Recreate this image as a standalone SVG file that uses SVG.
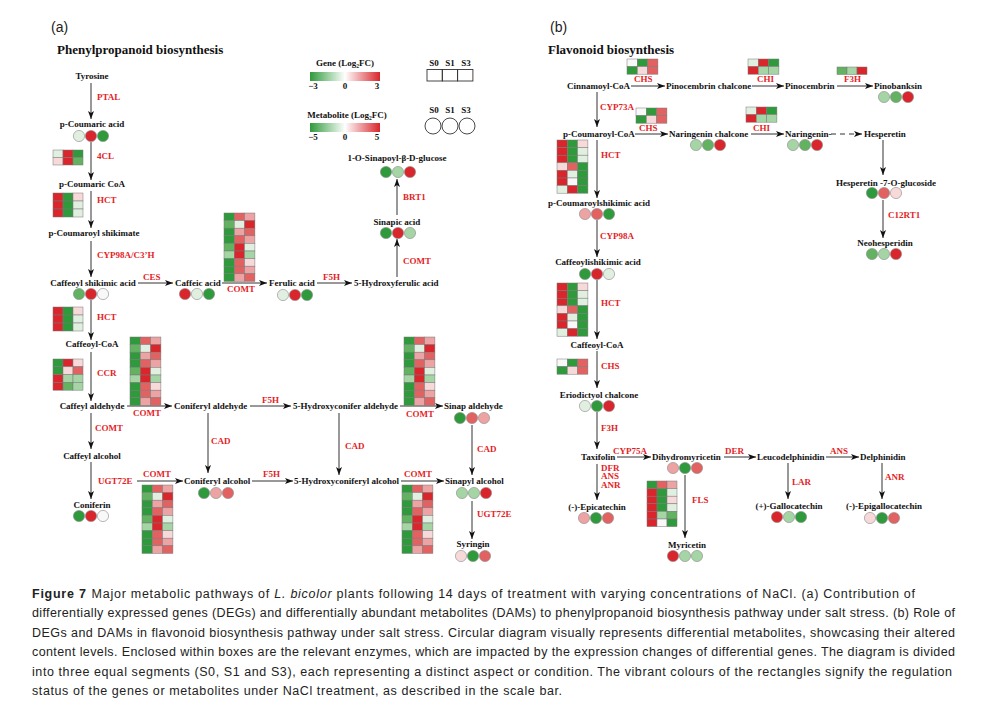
<svg xmlns="http://www.w3.org/2000/svg" width="991" height="712" viewBox="0 0 991 712">
<style>
.n{font-family:"Liberation Serif","Times New Roman",serif;font-weight:bold;font-size:9px;fill:#111}
.e{font-family:"Liberation Serif","Times New Roman",serif;font-weight:bold;font-size:9px;fill:#e41e26}
.t{font-family:"Liberation Serif","Times New Roman",serif;font-weight:bold;font-size:13px;fill:#111}
.p{font-family:"Liberation Sans",Arial,sans-serif;font-size:14px;fill:#222}
.c{font-family:"Liberation Sans",Arial,sans-serif;font-size:12.5px;fill:#222}
.k{stroke:#333;stroke-width:1;fill:none;marker-end:url(#ah)}
.m circle{stroke:#8a8a8a;stroke-width:.6}
.R{fill:#d8262c}.R2{fill:#e26262}.R3{fill:#eda3a3}.R4{fill:#f8d9d9}.W{fill:#f8f8f8}.G4{fill:#e0efe0}.G3{fill:#a5d4a5}.G2{fill:#62b262}.G{fill:#2f9a3b}
</style>
<defs>
<marker id="ah" viewBox="0 0 8 6" refX="8" refY="3" markerWidth="8" markerHeight="6" markerUnits="userSpaceOnUse" orient="auto"><path d="M0,0 L8,3 L0,6 L2,3 z" fill="#111"/></marker>
<linearGradient id="gr" x1="0" y1="0" x2="1" y2="0"><stop offset="0" stop-color="#2f9a3b"/><stop offset="0.5" stop-color="#ffffff"/><stop offset="1" stop-color="#d8262c"/></linearGradient>
<g id="comt" stroke="#777" stroke-width=".5">
<rect x="0" y="0" width="10.3" height="7.6" class="G"/><rect x="10.3" y="0" width="10.3" height="7.6" class="R2"/><rect x="20.6" y="0" width="10.3" height="7.6" class="R3"/>
<rect x="0" y="7.6" width="10.3" height="7.6" class="G2"/><rect x="10.3" y="7.6" width="10.3" height="7.6" class="G4"/><rect x="20.6" y="7.6" width="10.3" height="7.6" class="R"/>
<rect x="0" y="15.2" width="10.3" height="7.6" class="G"/><rect x="10.3" y="15.2" width="10.3" height="7.6" class="R3"/><rect x="20.6" y="15.2" width="10.3" height="7.6" class="R2"/>
<rect x="0" y="22.8" width="10.3" height="7.6" class="G"/><rect x="10.3" y="22.8" width="10.3" height="7.6" class="R2"/><rect x="20.6" y="22.8" width="10.3" height="7.6" class="R3"/>
<rect x="0" y="30.4" width="10.3" height="7.6" class="G2"/><rect x="10.3" y="30.4" width="10.3" height="7.6" class="R"/><rect x="20.6" y="30.4" width="10.3" height="7.6" class="G4"/>
<rect x="0" y="38" width="10.3" height="7.6" class="G3"/><rect x="10.3" y="38" width="10.3" height="7.6" class="R"/><rect x="20.6" y="38" width="10.3" height="7.6" class="G3"/>
<rect x="0" y="45.6" width="10.3" height="7.6" class="G"/><rect x="10.3" y="45.6" width="10.3" height="7.6" class="R2"/><rect x="20.6" y="45.6" width="10.3" height="7.6" class="R4"/>
<rect x="0" y="53.2" width="10.3" height="7.6" class="G"/><rect x="10.3" y="53.2" width="10.3" height="7.6" class="R2"/><rect x="20.6" y="53.2" width="10.3" height="7.6" class="R3"/>
<rect x="0" y="60.8" width="10.3" height="7.6" class="G"/><rect x="10.3" y="60.8" width="10.3" height="7.6" class="R3"/><rect x="20.6" y="60.8" width="10.3" height="7.6" class="R2"/>
</g>
<g id="hct3" stroke="#777" stroke-width=".5">
<rect x="0" y="0" width="10" height="8" class="R"/><rect x="10" y="0" width="10" height="8" class="G"/><rect x="20" y="0" width="10" height="8" class="R4"/>
<rect x="0" y="8" width="10" height="8" class="R"/><rect x="10" y="8" width="10" height="8" class="G"/><rect x="20" y="8" width="10" height="8" class="G4"/>
<rect x="0" y="16" width="10" height="8" class="R"/><rect x="10" y="16" width="10" height="8" class="G"/><rect x="20" y="16" width="10" height="8" class="G4"/>
</g>
<g id="cl4" stroke="#777" stroke-width=".5">
<rect x="0" y="0" width="10" height="7.5" class="G4"/><rect x="10" y="0" width="10" height="7.5" class="R"/><rect x="20" y="0" width="10" height="7.5" class="G"/>
<rect x="0" y="7.5" width="10" height="7.5" class="R4"/><rect x="10" y="7.5" width="10" height="7.5" class="R"/><rect x="20" y="7.5" width="10" height="7.5" class="G2"/>
</g>
<g id="ccr" stroke="#777" stroke-width=".5">
<rect x="0" y="0" width="10" height="7.8" class="G"/><rect x="10" y="0" width="10" height="7.8" class="R"/><rect x="20" y="0" width="10" height="7.8" class="R4"/>
<rect x="0" y="7.8" width="10" height="7.8" class="G"/><rect x="10" y="7.8" width="10" height="7.8" class="R4"/><rect x="20" y="7.8" width="10" height="7.8" class="R2"/>
<rect x="0" y="15.6" width="10" height="7.8" class="R"/><rect x="10" y="15.6" width="10" height="7.8" class="G3"/><rect x="20" y="15.6" width="10" height="7.8" class="G3"/>
<rect x="0" y="23.4" width="10" height="7.8" class="R"/><rect x="10" y="23.4" width="10" height="7.8" class="G2"/><rect x="20" y="23.4" width="10" height="7.8" class="G3"/>
</g>
<g id="chs" stroke="#777" stroke-width=".5">
<rect x="0" y="0" width="10.3" height="7.6" class="W"/><rect x="10.3" y="0" width="10.3" height="7.6" class="G"/><rect x="20.6" y="0" width="10.3" height="7.6" class="R2"/>
<rect x="0" y="7.6" width="10.3" height="7.6" class="G"/><rect x="10.3" y="7.6" width="10.3" height="7.6" class="R4"/><rect x="20.6" y="7.6" width="10.3" height="7.6" class="R2"/>
</g>
<g id="chi" stroke="#777" stroke-width=".5">
<rect x="0" y="0" width="10.3" height="7.6" class="G4"/><rect x="10.3" y="0" width="10.3" height="7.6" class="R"/><rect x="20.6" y="0" width="10.3" height="7.6" class="G"/>
<rect x="0" y="7.6" width="10.3" height="7.6" class="R"/><rect x="10.3" y="7.6" width="10.3" height="7.6" class="G3"/><rect x="20.6" y="7.6" width="10.3" height="7.6" class="G3"/>
</g>
<g id="f3h" stroke="#777" stroke-width=".5">
<rect x="0" y="0" width="10" height="7.5" class="G2"/><rect x="10" y="0" width="10" height="7.5" class="G3"/><rect x="20" y="0" width="10" height="7.5" class="R"/>
</g>
<g id="hct7" stroke="#777" stroke-width=".5">
<rect x="0" y="0" width="10.3" height="7.6" class="R"/><rect x="10.3" y="0" width="10.3" height="7.6" class="G"/><rect x="20.6" y="0" width="10.3" height="7.6" class="R4"/>
<rect x="0" y="7.6" width="10.3" height="7.6" class="R"/><rect x="10.3" y="7.6" width="10.3" height="7.6" class="G"/><rect x="20.6" y="7.6" width="10.3" height="7.6" class="G4"/>
<rect x="0" y="15.2" width="10.3" height="7.6" class="R"/><rect x="10.3" y="15.2" width="10.3" height="7.6" class="G"/><rect x="20.6" y="15.2" width="10.3" height="7.6" class="G4"/>
<rect x="0" y="22.8" width="10.3" height="7.6" class="R4"/><rect x="10.3" y="22.8" width="10.3" height="7.6" class="R2"/><rect x="20.6" y="22.8" width="10.3" height="7.6" class="G"/>
<rect x="0" y="30.4" width="10.3" height="7.6" class="R"/><rect x="10.3" y="30.4" width="10.3" height="7.6" class="G4"/><rect x="20.6" y="30.4" width="10.3" height="7.6" class="G"/>
<rect x="0" y="38" width="10.3" height="7.6" class="R"/><rect x="10.3" y="38" width="10.3" height="7.6" class="W"/><rect x="20.6" y="38" width="10.3" height="7.6" class="G"/>
<rect x="0" y="45.6" width="10.3" height="7.6" class="G4"/><rect x="10.3" y="45.6" width="10.3" height="7.6" class="R"/><rect x="20.6" y="45.6" width="10.3" height="7.6" class="G"/>
</g>
<g id="fls" stroke="#777" stroke-width=".5">
<rect x="0" y="0" width="10" height="7.6" class="G"/><rect x="10" y="0" width="10" height="7.6" class="R2"/><rect x="20" y="0" width="10" height="7.6" class="R3"/>
<rect x="0" y="7.6" width="10" height="7.6" class="R"/><rect x="10" y="7.6" width="10" height="7.6" class="G"/><rect x="20" y="7.6" width="10" height="7.6" class="G4"/>
<rect x="0" y="15.2" width="10" height="7.6" class="R"/><rect x="10" y="15.2" width="10" height="7.6" class="G"/><rect x="20" y="15.2" width="10" height="7.6" class="R4"/>
<rect x="0" y="22.8" width="10" height="7.6" class="R"/><rect x="10" y="22.8" width="10" height="7.6" class="G"/><rect x="20" y="22.8" width="10" height="7.6" class="G4"/>
<rect x="0" y="30.4" width="10" height="7.6" class="R"/><rect x="10" y="30.4" width="10" height="7.6" class="G3"/><rect x="20" y="30.4" width="10" height="7.6" class="G2"/>
<rect x="0" y="38" width="10" height="7.6" class="R"/><rect x="10" y="38" width="10" height="7.6" class="W"/><rect x="20" y="38" width="10" height="7.6" class="G"/>
</g>
</defs>
<rect width="991" height="712" fill="#ffffff"/>

<!-- Panel titles -->
<text class="p" x="51" y="32">(a)</text>
<text class="t" x="57" y="54">Phenylpropanoid biosynthesis</text>
<text class="p" x="550" y="32">(b)</text>
<text class="t" x="548" y="54">Flavonoid biosynthesis</text>

<!-- Legend -->
<g id="legend">
<text class="n" x="345" y="66" text-anchor="middle" font-size="8">Gene (Log<tspan font-size="5.5" dy="1.5">2</tspan><tspan dy="-1.5">FC)</tspan></text>
<rect x="310" y="72" width="70" height="9" fill="url(#gr)"/>
<text class="n" x="313" y="89" text-anchor="middle" font-size="7">−3</text>
<text class="n" x="345" y="89" text-anchor="middle" font-size="7">0</text>
<text class="n" x="377" y="89" text-anchor="middle" font-size="7">3</text>
<text class="n" x="347" y="118" text-anchor="middle" font-size="8">Metabolite (Log<tspan font-size="5.5" dy="1.5">2</tspan><tspan dy="-1.5">FC)</tspan></text>
<rect x="310" y="123" width="70" height="9" fill="url(#gr)"/>
<text class="n" x="313" y="140" text-anchor="middle" font-size="7">−5</text>
<text class="n" x="345" y="140" text-anchor="middle" font-size="7">0</text>
<text class="n" x="377" y="140" text-anchor="middle" font-size="7">5</text>
<text class="n" x="434" y="66" text-anchor="middle" font-size="8">S0</text>
<text class="n" x="450" y="66" text-anchor="middle" font-size="8">S1</text>
<text class="n" x="466" y="66" text-anchor="middle" font-size="8">S3</text>
<g fill="none" stroke="#333" stroke-width=".9">
<rect x="427" y="69.5" width="15.3" height="11.5"/><rect x="442.3" y="69.5" width="15.3" height="11.5"/><rect x="457.6" y="69.5" width="15.3" height="11.5"/>
<circle cx="433" cy="126" r="8"/><circle cx="450" cy="126" r="8"/><circle cx="467" cy="126" r="8"/>
</g>
<text class="n" x="434" y="113" text-anchor="middle" font-size="8">S0</text>
<text class="n" x="450" y="113" text-anchor="middle" font-size="8">S1</text>
<text class="n" x="466" y="113" text-anchor="middle" font-size="8">S3</text>
</g>

<!-- Connectors -->
<g id="connectors">
<path class="k" d="M91,83 V119"/>
<path class="k" d="M91,142 V180"/>
<path class="k" d="M91,191 V228"/>
<path class="k" d="M91,241 V277"/>
<path class="k" d="M138,283 H173"/>
<path class="k" d="M222,283 H267"/>
<path class="k" d="M317,283 H352"/>
<path class="k" d="M397,277 V239"/>
<path class="k" d="M397,215 V179"/>
<path class="k" d="M91,300 V340"/>
<path class="k" d="M91,352 V401"/>
<path class="k" d="M127,406 H172"/>
<path class="k" d="M250,406 H291"/>
<path class="k" d="M400,406 H443"/>
<path class="k" d="M91,413 V449"/>
<path class="k" d="M208,413 V473"/>
<path class="k" d="M339,413 V475"/>
<path class="k" d="M472,425 V475"/>
<path class="k" d="M91,462 V499"/>
<path class="k" d="M137,481 H183"/>
<path class="k" d="M252,481 H293"/>
<path class="k" d="M401,481 H444"/>
<path class="k" d="M472,501 V539"/>

<path class="k" d="M631,86 H665"/>
<path class="k" d="M752,86 H784"/>
<path class="k" d="M837,86 H873"/>
<path class="k" d="M597,92 V127"/>
<path class="k" d="M635,134 H668"/>
<path class="k" d="M751,134 H784"/>
<path class="k" d="M831,134 H862" stroke-dasharray="5,4"/>
<path class="k" d="M883,140 V175"/>
<path class="k" d="M883,200 V238"/>
<path class="k" d="M597,140 V198"/>
<path class="k" d="M597,220 V257"/>
<path class="k" d="M597,280 V339"/>
<path class="k" d="M597,351 V388"/>
<path class="k" d="M597,412 V449"/>
<path class="k" d="M617,457 H651"/>
<path class="k" d="M724,457 H756"/>
<path class="k" d="M826,457 H859"/>
<path class="k" d="M597,464 V500"/>
<path class="k" d="M685,475 V538"/>
<path class="k" d="M788,463 V499"/>
<path class="k" d="M882,463 V499"/>
</g>

<!-- Panel (a) nodes -->
<g id="tyrosine"><text class="n" x="92" y="79" text-anchor="middle">Tyrosine</text></g>
<g id="p-coumaric-acid" class="m"><text class="n" x="92" y="127" text-anchor="middle">p-Coumaric acid</text>
<circle cx="79" cy="136" r="5.6" class="G4"/><circle cx="91" cy="136" r="5.6" class="R"/><circle cx="103" cy="136" r="5.6" class="G"/></g>
<g id="p-coumaric-coa"><text class="n" x="92" y="187" text-anchor="middle">p-Coumaric CoA</text></g>
<g id="p-coumaroyl-shikimate"><text class="n" x="94" y="236" text-anchor="middle">p-Coumaroyl shikimate</text></g>
<g id="caffeoyl-shikimic-acid" class="m"><text class="n" x="93" y="286" text-anchor="middle">Caffeoyl shikimic acid</text>
<circle cx="79" cy="294" r="5.6" class="G2"/><circle cx="91" cy="294" r="5.6" class="R"/><circle cx="103" cy="294" r="5.6" class="W"/></g>
<g id="caffeic-acid" class="m"><text class="n" x="175" y="286">Caffeic acid</text>
<circle cx="185" cy="294" r="5.6" class="R"/><circle cx="197" cy="294" r="5.6" class="G4"/><circle cx="209" cy="294" r="5.6" class="G"/></g>
<g id="ferulic-acid" class="m"><text class="n" x="269" y="286">Ferulic acid</text>
<circle cx="283" cy="295" r="5.6" class="G4"/><circle cx="295" cy="295" r="5.6" class="R"/><circle cx="307" cy="295" r="5.6" class="G"/></g>
<g id="hydroxyferulic-acid"><text class="n" x="354" y="286">5-Hydroxyferulic acid</text></g>
<g id="sinapic-acid" class="m"><text class="n" x="397" y="225" text-anchor="middle">Sinapic acid</text>
<circle cx="386" cy="233" r="5.6" class="G"/><circle cx="398" cy="233" r="5.6" class="R"/><circle cx="410" cy="233" r="5.6" class="G3"/></g>
<g id="sinapoyl-glucose" class="m"><text class="n" x="397" y="161" text-anchor="middle">1-O-Sinapoyl-β-D-glucose</text>
<circle cx="386" cy="172" r="5.6" class="G"/><circle cx="398" cy="172" r="5.6" class="G3"/><circle cx="410" cy="172" r="5.6" class="R"/></g>
<g id="caffeoyl-coa"><text class="n" x="92" y="347" text-anchor="middle">Caffeoyl-CoA</text></g>
<g id="caffeyl-aldehyde"><text class="n" x="92" y="409" text-anchor="middle">Caffeyl aldehyde</text></g>
<g id="coniferyl-aldehyde"><text class="n" x="174" y="409">Coniferyl aldehyde</text></g>
<g id="hydroxyconifer-aldehyde"><text class="n" x="293" y="409">5-Hydroxyconifer aldehyde</text></g>
<g id="sinap-aldehyde" class="m"><text class="n" x="444" y="409">Sinap aldehyde</text>
<circle cx="460" cy="418" r="5.6" class="G"/><circle cx="472" cy="418" r="5.6" class="R2"/><circle cx="484" cy="418" r="5.6" class="R3"/></g>
<g id="caffeyl-alcohol"><text class="n" x="92" y="459" text-anchor="middle">Caffeyl alcohol</text></g>
<g id="coniferin" class="m"><text class="n" x="92" y="508" text-anchor="middle">Coniferin</text>
<circle cx="79" cy="516" r="5.6" class="G"/><circle cx="91" cy="516" r="5.6" class="R"/><circle cx="103" cy="516" r="5.6" class="W"/></g>
<g id="coniferyl-alcohol" class="m"><text class="n" x="184" y="484">Coniferyl alcohol</text>
<circle cx="204" cy="493" r="5.6" class="G"/><circle cx="216" cy="493" r="5.6" class="R3"/><circle cx="228" cy="493" r="5.6" class="R2"/></g>
<g id="hydroxyconiferyl-alcohol"><text class="n" x="294" y="484">5-Hydroxyconiferyl alcohol</text></g>
<g id="sinapyl-alcohol" class="m"><text class="n" x="445" y="484">Sinapyl alcohol</text>
<circle cx="462" cy="493" r="5.6" class="G3"/><circle cx="474" cy="493" r="5.6" class="G3"/><circle cx="486" cy="493" r="5.6" class="R"/></g>
<g id="syringin" class="m"><text class="n" x="473" y="547" text-anchor="middle">Syringin</text>
<circle cx="461" cy="556" r="5.6" class="R4"/><circle cx="473" cy="556" r="5.6" class="G"/><circle cx="485" cy="556" r="5.6" class="R2"/></g>

<!-- Panel (a) enzymes -->
<g id="enzymes-a">
<text class="e" x="97" y="100">PTAL</text>
<use href="#cl4" x="53" y="150"/><text class="e" x="97" y="159">4CL</text>
<use href="#hct3" x="53" y="193"/><text class="e" x="97" y="203">HCT</text>
<text class="e" x="97" y="258">CYP98A/C3’H</text>
<text class="e" x="143" y="280">CES</text>
<use href="#comt" x="224" y="213"/><text class="e" x="227" y="292">COMT</text>
<text class="e" x="323" y="280">F5H</text>
<text class="e" x="403" y="264">COMT</text>
<text class="e" x="403" y="200">BRT1</text>
<use href="#hct3" x="53" y="307"/><text class="e" x="97" y="320">HCT</text>
<use href="#ccr" x="53" y="359"/><text class="e" x="97" y="376">CCR</text>
<use href="#comt" x="130" y="337"/><text class="e" x="133" y="416">COMT</text>
<text class="e" x="262" y="403">F5H</text>
<use href="#comt" x="404" y="337"/><text class="e" x="406" y="417">COMT</text>
<text class="e" x="95" y="431">COMT</text>
<text class="e" x="211" y="444">CAD</text>
<text class="e" x="345" y="449">CAD</text>
<text class="e" x="477" y="452">CAD</text>
<text class="e" x="98" y="484">UGT72E</text>
<text class="e" x="143" y="477">COMT</text>
<use href="#comt" x="142" y="485"/>
<text class="e" x="263" y="477">F5H</text>
<text class="e" x="404" y="477">COMT</text>
<use href="#comt" x="402" y="485"/>
<text class="e" x="477" y="517">UGT72E</text>
</g>

<!-- Panel (b) nodes -->
<g id="cinnamoyl-coa"><text class="n" x="567" y="89">Cinnamoyl-CoA</text></g>
<g id="pinocembrin-chalcone"><text class="n" x="666" y="89">Pinocembrin chalcone</text></g>
<g id="pinocembrin"><text class="n" x="785" y="89">Pinocembrin</text></g>
<g id="pinobanksin" class="m"><text class="n" x="874" y="89">Pinobanksin</text>
<circle cx="884" cy="97" r="5.6" class="G3"/><circle cx="896" cy="97" r="5.6" class="G2"/><circle cx="908" cy="97" r="5.6" class="R"/></g>
<g id="p-coumaroyl-coa"><text class="n" x="563" y="137">p-Coumaroyl-CoA</text></g>
<g id="naringenin-chalcone" class="m"><text class="n" x="669" y="137">Naringenin chalcone</text>
<circle cx="696" cy="145" r="5.6" class="G3"/><circle cx="708" cy="145" r="5.6" class="G2"/><circle cx="720" cy="145" r="5.6" class="R"/></g>
<g id="naringenin" class="m"><text class="n" x="785" y="137">Naringenin-</text>
<circle cx="793" cy="145" r="5.6" class="G3"/><circle cx="805" cy="145" r="5.6" class="G2"/><circle cx="817" cy="145" r="5.6" class="R"/></g>
<g id="hesperetin"><text class="n" x="864" y="137">Hesperetin</text></g>
<g id="hesperetin-glucoside" class="m"><text class="n" x="886" y="186" text-anchor="middle">Hesperetin -7-O-glucoside</text>
<circle cx="872" cy="193" r="5.6" class="G"/><circle cx="884" cy="193" r="5.6" class="R2"/><circle cx="896" cy="193" r="5.6" class="R4"/></g>
<g id="neohesperidin" class="m"><text class="n" x="885" y="246" text-anchor="middle">Neohesperidin</text>
<circle cx="872" cy="254" r="5.6" class="G2"/><circle cx="884" cy="254" r="5.6" class="G3"/><circle cx="896" cy="254" r="5.6" class="R"/></g>
<g id="p-coumaroylshikimic-acid" class="m"><text class="n" x="599" y="206" text-anchor="middle">p-Coumaroylshikimic acid</text>
<circle cx="585" cy="214" r="5.6" class="R3"/><circle cx="597" cy="214" r="5.6" class="R2"/><circle cx="609" cy="214" r="5.6" class="G"/></g>
<g id="caffeoylishikimic-acid" class="m"><text class="n" x="598" y="265" text-anchor="middle">Caffeoylishikimic acid</text>
<circle cx="585" cy="274" r="5.6" class="G"/><circle cx="597" cy="274" r="5.6" class="R"/><circle cx="609" cy="274" r="5.6" class="G4"/></g>
<g id="caffeoyl-coa-b"><text class="n" x="597" y="348" text-anchor="middle">Caffeoyl-CoA</text></g>
<g id="eriodictyol-chalcone" class="m"><text class="n" x="599" y="398" text-anchor="middle">Eriodictyol chalcone</text>
<circle cx="585" cy="406" r="5.6" class="G4"/><circle cx="597" cy="406" r="5.6" class="G"/><circle cx="609" cy="406" r="5.6" class="R"/></g>
<g id="taxifolin"><text class="n" x="581" y="460">Taxifolin</text></g>
<g id="dihydromyricetin" class="m"><text class="n" x="652" y="460">Dihydromyricetin</text>
<circle cx="673" cy="468" r="5.6" class="R3"/><circle cx="685" cy="468" r="5.6" class="G"/><circle cx="697" cy="468" r="5.6" class="R2"/></g>
<g id="leucodelphinidin"><text class="n" x="757" y="460">Leucodelphinidin</text></g>
<g id="delphinidin"><text class="n" x="860" y="460">Delphinidin</text></g>
<g id="epicatechin" class="m"><text class="n" x="597" y="510" text-anchor="middle">(-)-Epicatechin</text>
<circle cx="584" cy="518" r="5.6" class="R3"/><circle cx="596" cy="518" r="5.6" class="G"/><circle cx="608" cy="518" r="5.6" class="R2"/></g>
<g id="myricetin" class="m"><text class="n" x="687" y="548" text-anchor="middle">Myricetin</text>
<circle cx="673" cy="556" r="5.6" class="R"/><circle cx="685" cy="556" r="5.6" class="G3"/><circle cx="697" cy="556" r="5.6" class="G3"/></g>
<g id="gallocatechin" class="m"><text class="n" x="789" y="509" text-anchor="middle">(+)-Gallocatechin</text>
<circle cx="777" cy="517" r="5.6" class="R"/><circle cx="789" cy="517" r="5.6" class="G3"/><circle cx="801" cy="517" r="5.6" class="G"/></g>
<g id="epigallocatechin" class="m"><text class="n" x="884" y="509" text-anchor="middle">(-)-Epigallocatechin</text>
<circle cx="870" cy="518" r="5.6" class="R4"/><circle cx="882" cy="518" r="5.6" class="G"/><circle cx="894" cy="518" r="5.6" class="R2"/></g>

<!-- Panel (b) enzymes -->
<g id="enzymes-b">
<use href="#chs" x="627" y="59"/><text class="e" x="634" y="82">CHS</text>
<use href="#chi" x="748" y="59"/><text class="e" x="757" y="82">CHI</text>
<use href="#f3h" x="837" y="67"/><text class="e" x="844" y="82">F3H</text>
<text class="e" x="600" y="110">CYP73A</text>
<use href="#chs" x="636" y="108"/><text class="e" x="639" y="131">CHS</text>
<use href="#chi" x="746" y="107"/><text class="e" x="753" y="131">CHI</text>
<use href="#hct7" x="557" y="140"/><text class="e" x="601" y="158">HCT</text>
<text class="e" x="600" y="239">CYP98A</text>
<use href="#hct7" x="557" y="283"/><text class="e" x="601" y="306">HCT</text>
<use href="#chs" x="557" y="359"/><text class="e" x="601" y="369">CHS</text>
<text class="e" x="601" y="431">F3H</text>
<text class="e" x="613" y="454">CYP75A</text>
<text class="e" x="725" y="454">DER</text>
<text class="e" x="830" y="454">ANS</text>
<text class="e" x="601" y="470.5" font-size="6.8">DFR</text>
<text class="e" x="601" y="479" font-size="6.8">ANS</text>
<text class="e" x="601" y="487.5" font-size="6.8">ANR</text>
<use href="#fls" x="647" y="481"/><text class="e" x="692" y="503">FLS</text>
<text class="e" x="792" y="485">LAR</text>
<text class="e" x="885" y="480">ANR</text>
<text class="e" x="888" y="218">C12RT1</text>
</g>

<!-- Caption -->
<g id="caption">
<text class="c" x="32" y="598" textLength="883" lengthAdjust="spacing"><tspan font-weight="bold">Figure 7</tspan><tspan dx="5">Major metabolic pathways of </tspan><tspan font-style="italic">L. bicolor</tspan> plants following 14 days of treatment with varying concentrations of NaCl. (a) Contribution of</text>
<text class="c" x="32" y="617" textLength="923" lengthAdjust="spacing">differentially expressed genes (DEGs) and differentially abundant metabolites (DAMs) to phenylpropanoid biosynthesis pathway under salt stress. (b) Role of</text>
<text class="c" x="32" y="637" textLength="923" lengthAdjust="spacing">DEGs and DAMs in flavonoid biosynthesis pathway under salt stress. Circular diagram visually represents differential metabolites, showcasing their altered</text>
<text class="c" x="32" y="656" textLength="923" lengthAdjust="spacing">content levels. Enclosed within boxes are the relevant enzymes, which are impacted by the expression changes of differential genes. The diagram is divided</text>
<text class="c" x="32" y="676" textLength="920" lengthAdjust="spacing">into three equal segments (S0, S1 and S3), each representing a distinct aspect or condition. The vibrant colours of the rectangles signify the regulation</text>
<text class="c" x="32" y="695" textLength="530" lengthAdjust="spacing">status of the genes or metabolites under NaCl treatment, as described in the scale bar.</text>
</g>
</svg>
